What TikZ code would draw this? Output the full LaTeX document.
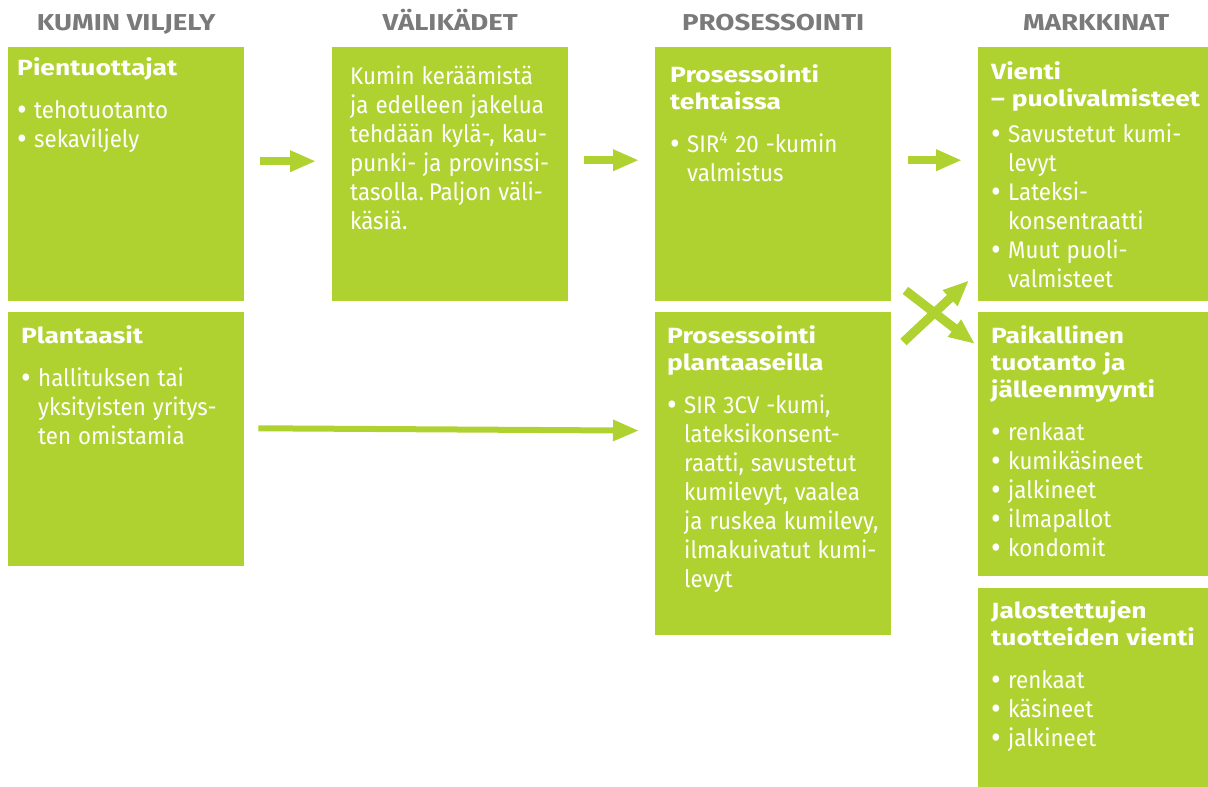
\documentclass[tikz,border=0pt]{standalone}
\usepackage{fontspec}
\setmainfont{Fira Sans}
\newfontfamily\leipa{Fira Sans}[FakeStretch=0.93]
\newfontfamily\paksu{Fira Sans}[FakeStretch=1.2]
\usetikzlibrary{arrows.meta, positioning}
\definecolor{kumivihrea}{RGB}{176,210,48}
\definecolor{otsakeharmaa}{RGB}{122,122,122}
\tikzstyle{box} = [rectangle, fill=kumivihrea, anchor=north west, inner sep=0, minimum width=236pt, minimum height=254pt]
\tikzstyle{teksti} = [anchor=north west, inner sep=0, text=white, text width=218pt, align=left]
\tikzstyle{otsake} = [anchor=base, inner sep=0, text=otsakeharmaa, font=\paksu\fontsize{23}{27}\selectfont\bfseries]
\tikzstyle{nuoli} = [draw=kumivihrea, line width=8pt, -{Triangle[length=26pt, width=20pt]}]
\newcommand{\otsikko}[2][14pt]{{\noindent\paksu\fontsize{22}{27}\selectfont\bfseries\spaceskip=7pt #2\par}\vspace{#1}}
\newcommand{\pallo}{\makebox[17pt][l]{\raisebox{-2pt}{\fontsize{32}{29}\selectfont •}}}
\newcommand{\kohta}[1]{{\leipa\fontsize{24}{29}\selectfont\spaceskip=7pt\noindent\hangindent=17pt\hangafter=1 \pallo#1\par}}
\newcommand{\leipateksti}[1]{{\leipa\fontsize{24}{29}\selectfont\spaceskip=7pt\noindent #1\par}}

\begin{document}
\begin{tikzpicture}[x=1pt, y=-1pt]
\useasboundingbox (0,0) rectangle (1208,787);

% laatikot
\node [box] (pien) at (8,47) {};
\node [box] (plant) at (8,312) {};
\node [box] (vali) at (332,47) {};
\node [box] (teht) at (655,47) {};
\node [box, minimum height=323pt] (pplant) at (655,312) {};
\node [box] (vienti) at (978,47) {};
\node [box, minimum height=264pt] (paik) at (978,312) {};
\node [box, minimum height=210pt] (jalo) at (978,588) {};

% otsakkeet
\node [otsake] (h1) at ([yshift=17pt]pien.north) {KUMIN VILJELY};
\node [otsake] (h2) at ([yshift=17pt]vali.north) {VÄLIKÄDET};
\node [otsake] (h3) at ([yshift=17pt]teht.north) {PROSESSOINTI};
\node [otsake] (h4) at ([yshift=17pt]vienti.north) {MARKKINAT};

% tekstit
\node [teksti] (pien-t) at ([shift={(9,10)}]pien.north west)
  {\otsikko{Pientuottajat}\kohta{tehotuotanto}\kohta{sekaviljely}};
\node [teksti] (plant-t) at ([shift={(13,13)}]plant.north west)
  {\otsikko{Plantaasit}\kohta{hallituksen tai\newline yksityisten yritys-\newline ten omistamia}};
\node [teksti] (vali-t) at ([shift={(18,19)}]vali.north west)
  {\leipateksti{Kumin keräämistä\newline ja edelleen jakelua\newline tehdään kylä-, kau-\newline punki- ja provinssi-\newline tasolla. Paljon väli-\newline käsiä.}};
\node [teksti] (teht-t) at ([shift={(15,17)}]teht.north west)
  {\otsikko{Prosessointi\newline tehtaissa}\kohta{SIR\textsuperscript{4} 20 -kumin\newline valmistus}};
\node [teksti] (pplant-t) at ([shift={(12,13)}]pplant.north west)
  {\otsikko{Prosessointi\newline plantaaseilla}\kohta{SIR 3CV -kumi,\newline lateksikonsent-\newline raatti, savustetut\newline kumilevyt, vaalea\newline ja ruskea kumilevy,\newline ilmakuivatut kumi-\newline levyt}};
\node [teksti] (vienti-t) at ([shift={(13,14)}]vienti.north west)
  {\otsikko[7pt]{Vienti\newline – puolivalmisteet}\kohta{Savustetut kumi-\newline levyt}\kohta{Lateksi-\newline konsentraatti}\kohta{Muut puoli-\newline valmisteet}};
\node [teksti] (paik-t) at ([shift={(13,13)}]paik.north west)
  {\otsikko{Paikallinen\newline tuotanto ja\newline jälleenmyynti}\kohta{renkaat}\kohta{kumikäsineet}\kohta{jalkineet}\kohta{ilmapallot}\kohta{kondomit}};
\node [teksti] (jalo-t) at ([shift={(13,12)}]jalo.north west)
  {\otsikko{Jalostettujen\newline tuotteiden vienti}\kohta{renkaat}\kohta{käsineet}\kohta{jalkineet}};

% nuolet
\draw [nuoli, shorten <=16pt, shorten >=16pt] ([yshift=13pt]pien.east) -- ([yshift=13pt]vali.west);
\draw [nuoli, shorten <=16pt, shorten >=16pt] ([yshift=14pt]vali.east) -- ([yshift=14pt]teht.west);
\draw [nuoli, shorten <=17pt, shorten >=16pt] ([yshift=14pt]teht.east) -- ([yshift=14pt]vienti.west);
\draw [nuoli, line width=6pt, shorten <=14pt, shorten >=16pt] ([yshift=11pt]plant.east) -- ([yshift=43pt]pplant.west);
\draw [nuoli, line width=9pt] ([shift={(12,30)}]pplant.north east) -- ([shift={(-9,-21)}]vienti.south west);
\draw [nuoli, line width=9pt] ([shift={(14,-11)}]teht.south east) -- ([shift={(-3,32)}]paik.north west);

\end{tikzpicture}
\end{document}
